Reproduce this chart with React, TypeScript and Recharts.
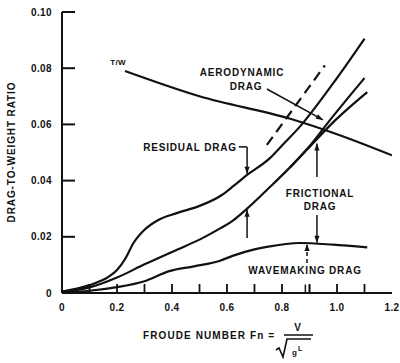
import { LineChart, Line, XAxis, YAxis, ReferenceLine, ReferenceDot } from 'recharts';

// Froude number (x) and drag-to-weight ratio (y)
const totalFn = [0, 0.1, 0.17, 0.2, 0.23, 0.26, 0.3, 0.35, 0.42, 0.5, 0.58, 0.625, 0.673, 0.756, 0.8, 0.865, 0.985, 1.1];
const totalDrag = [0.0005, 0.0028, 0.0058, 0.0082, 0.0122, 0.0178, 0.0225, 0.026, 0.0285, 0.031, 0.0348, 0.0382, 0.042, 0.048, 0.0525, 0.0592, 0.0745, 0.0905];

const frictionFn = [0, 0.1, 0.2, 0.3, 0.42, 0.5, 0.575, 0.615, 0.673, 0.756, 0.83, 0.9, 0.995, 1.11];
const frictionDrag = [0.0005, 0.002, 0.0055, 0.0102, 0.0155, 0.019, 0.023, 0.0253, 0.03, 0.0377, 0.0448, 0.052, 0.0616, 0.0715];

const branchFn = [0.83, 0.9, 0.975, 1.1];
const branchDrag = [0.0448, 0.0522, 0.0616, 0.0765];

const waveFn = [0, 0.1, 0.2, 0.3, 0.39, 0.48, 0.575, 0.62, 0.7, 0.745, 0.865, 0.985, 1.11];
const waveDrag = [0.0003, 0.0008, 0.0021, 0.0042, 0.0078, 0.0095, 0.0115, 0.0132, 0.0155, 0.0164, 0.0178, 0.0172, 0.0162];

const aeroFn = [0.745, 0.956];
const aeroDrag = [0.0527, 0.081];

const thrustFn = [0.229, 0.5, 0.83, 1.0, 1.2];
const thrustRatio = [0.079, 0.07, 0.062, 0.0565, 0.049];

const xTicks = [0, 0.1, 0.2, 0.3, 0.4, 0.5, 0.6, 0.7, 0.8, 0.9, 1.0, 1.1, 1.2];
const xTickLabels = ['0', '0.2', '0.4', '0.6', '0.8', '1.0', '1.2'];
const yTicks = [0, 0.02, 0.04, 0.06, 0.08, 0.1];
const yTickLabels = ['0', '0.02', '0.04', '0.06', '0.08', '0.10'];

// annotation arrows: [fromFn, fromY, toFn, toY, headAngle, dashed]
const arrows: [number, number, number, number, number, boolean][] = [
  [0.673, 0.052, 0.673, 0.0424, 90, false],
  [0.673, 0.0196, 0.673, 0.0296, -90, false],
  [0.927, 0.0413, 0.927, 0.0532, -90, false],
  [0.927, 0.0278, 0.927, 0.0179, 90, false],
  [0.891, 0.0107, 0.891, 0.0174, -90, true],
  [0.745, 0.0726, 0.949, 0.0616, 29, false],
];

const toPoints = (xs: number[], ys: number[]) => xs.map((fn, i) => ({ fn, v: ys[i] }));

const INK = '#111';
const FONT = '"Liberation Sans", Arial, sans-serif';

const LeftTick = ({ x, y, index }: any) => (
  <g>
    <text x={x} y={y + 3.5} textAnchor="end" fontFamily={FONT} fontWeight="bold" fontSize={10} letterSpacing={0.4} fill={INK}>
      {yTickLabels[index]}
    </text>
    <line x1={x + 10} x2={x + 23} y1={y} y2={y} stroke={INK} strokeWidth={2} />
  </g>
);

const BottomTick = ({ x, y, index }: any) => (
  <g>
    {index % 2 === 0 && (
      <text x={x} y={y + 4} textAnchor="middle" fontFamily={FONT} fontWeight="bold" fontSize={10} letterSpacing={0.4} fill={INK}>
        {xTickLabels[index / 2]}
      </text>
    )}
    {index > 0 && index < xTicks.length - 1 && (
      <line x1={x} x2={x} y1={y - 14} y2={y - 23} stroke={INK} strokeWidth={1.8} />
    )}
  </g>
);

const TopTick = ({ x, y, index }: any) =>
  index > 0 && index < xTicks.length - 1 ? <line x1={x} x2={x} y1={y} y2={y + 11} stroke={INK} strokeWidth={1.8} /> : <g />;

const RightTick = ({ x, y, index }: any) =>
  index > 0 && index < yTicks.length - 1 ? <line x1={x} x2={x - 12} y1={y} y2={y} stroke={INK} strokeWidth={2} /> : <g />;

const Head = ({ cx, cy, angle }: any) => (
  <polygon points="0,0 -7,-2.6 -7,2.6" fill={INK} transform={`translate(${cx},${cy}) rotate(${angle})`} />
);

const label = { fontFamily: FONT, fontWeight: 'bold' as const, fontSize: 10, letterSpacing: 0.8, fill: INK };

export default function App() {
  const axisLine = { stroke: INK, strokeWidth: 2 };
  const curve = { stroke: INK, strokeWidth: 2.2, dot: false, isAnimationActive: false, type: 'monotone' as const, dataKey: 'v' };

  return (
    <div style={{ position: 'absolute', left: 0, top: 0, width: 400, height: 363, background: '#fff' }}>
      <LineChart width={400} height={363} margin={{ top: 12, right: 8, left: 12, bottom: 40 }}>
        <XAxis
          dataKey="fn"
          type="number"
          domain={[0, 1.2]}
          ticks={xTicks}
          interval={0}
          tickSize={0}
          tickMargin={14}
          tickLine={false}
          axisLine={axisLine}
          tick={<BottomTick />}
          height={30}
          allowDataOverflow
        />
        <XAxis
          xAxisId="top"
          orientation="top"
          type="number"
          domain={[0, 1.2]}
          ticks={xTicks}
          interval={0}
          tickSize={0}
          tickMargin={0}
          tickLine={false}
          axisLine={axisLine}
          tick={<TopTick />}
          height={0}
        />
        <YAxis
          type="number"
          domain={[0, 0.1]}
          ticks={yTicks}
          interval={0}
          tickSize={0}
          tickMargin={10}
          tickLine={false}
          axisLine={axisLine}
          tick={<LeftTick />}
          width={50}
          allowDataOverflow
        />
        <YAxis
          yAxisId="right"
          orientation="right"
          type="number"
          domain={[0, 0.1]}
          ticks={yTicks}
          interval={0}
          tickSize={0}
          tickMargin={0}
          tickLine={false}
          axisLine={axisLine}
          tick={<RightTick />}
          width={0}
        />

        <Line {...curve} data={toPoints(totalFn, totalDrag)} name="Total" />
        <Line {...curve} data={toPoints(frictionFn, frictionDrag)} name="Frictional + wavemaking" />
        <Line {...curve} data={toPoints(branchFn, branchDrag)} name="Branch" />
        <Line {...curve} data={toPoints(waveFn, waveDrag)} name="Wavemaking" />
        <Line {...curve} type="linear" data={toPoints(aeroFn, aeroDrag)} strokeDasharray="10 6" name="Aerodynamic" />
        <Line {...curve} data={toPoints(thrustFn, thrustRatio)} name="T/W" />

        <ReferenceLine segment={[{ x: 0.643, y: 0.052 }, { x: 0.673, y: 0.052 }]} stroke={INK} strokeWidth={1.5} />
        {arrows.map(([x1, y1, x2, y2, angle, dashed], i) => (
          <ReferenceLine
            key={`a${i}`}
            segment={[{ x: x1, y: y1 }, { x: x2, y: y2 }]}
            stroke={INK}
            strokeWidth={1.5}
            strokeDasharray={dashed ? '4 3' : undefined}
          />
        ))}
        {arrows.map(([, , x2, y2, angle], i) => (
          <ReferenceDot key={`h${i}`} x={x2} y={y2} r={0} shape={(p: any) => <Head cx={p.cx} cy={p.cy} angle={angle} />} />
        ))}
        <ReferenceLine segment={[{ x: 0.885, y: 0 }, { x: 0.885, y: 0.003 }]} stroke={INK} strokeWidth={1.5} />
        <ReferenceLine segment={[{ x: 0.9, y: 0 }, { x: 0.9, y: 0.003 }]} stroke={INK} strokeWidth={1.5} />
      </LineChart>

      <svg width={400} height={363} style={{ position: 'absolute', left: 0, top: 0, pointerEvents: 'none' }}>
        <text x={118} y={65} textAnchor="middle" {...label} fontSize={8} letterSpacing={0.3}>T/W</text>
        <text x={242} y={76} textAnchor="middle" {...label}>AERODYNAMIC</text>
        <text x={246} y={90} textAnchor="middle" {...label}>DRAG</text>
        <text x={190} y={151} textAnchor="middle" {...label}>RESIDUAL DRAG</text>
        <text x={320} y={197} textAnchor="middle" {...label}>FRICTIONAL</text>
        <text x={320} y={210} textAnchor="middle" {...label}>DRAG</text>
        <text x={305} y={274} textAnchor="middle" {...label}>WAVEMAKING DRAG</text>

        <text x={11} y={152} textAnchor="middle" transform="rotate(-90 11 152)" dy={3.5} {...label} letterSpacing={0.9}>
          DRAG-TO-WEIGHT RATIO
        </text>
        <text x={143} y={339} {...label} letterSpacing={1.1}>FROUDE NUMBER Fn =</text>
        <text x={298} y={331} textAnchor="middle" {...label}>V</text>
        <line x1={284} x2={313} y1={335} y2={335} stroke={INK} strokeWidth={1.5} />
        <path d="M276,350 L279,348 L283,357 L287,339 L311,339" fill="none" stroke={INK} strokeWidth={1.6} />
        <text x={292} y={355} {...label} fontSize={8} letterSpacing={0}>g</text>
        <text x={298} y={351} {...label} fontSize={7} letterSpacing={0}>L</text>
      </svg>
    </div>
  );
}
